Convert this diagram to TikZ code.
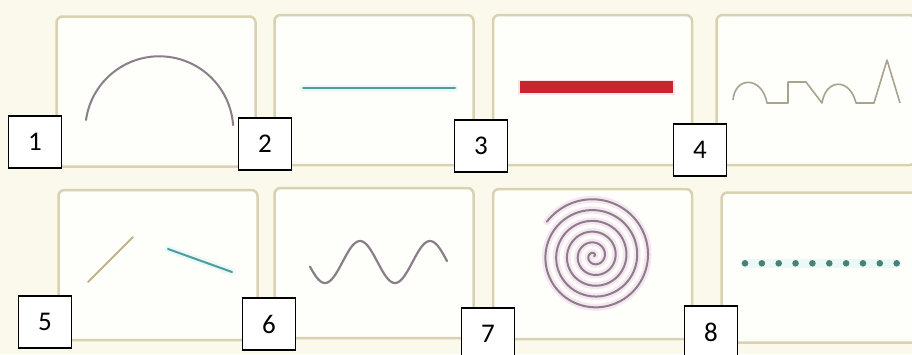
\documentclass[tikz,border=0pt]{standalone}
\usepackage{fontspec}
\setmainfont{Carlito}
\usetikzlibrary{positioning}
\definecolor{bgcream}{HTML}{FBF9EC}
\definecolor{frame}{HTML}{D8D2B0}
\definecolor{paper}{HTML}{FEFEFB}
\definecolor{mauve}{HTML}{8A7E88}
\definecolor{teal}{HTML}{4F9C9E}
\definecolor{dotteal}{HTML}{4A8078}
\definecolor{brick}{HTML}{C8262C}
\definecolor{taupe}{HTML}{A7A38E}
\definecolor{ochre}{HTML}{C4B48A}
\definecolor{blush}{HTML}{F7E6F2}
\definecolor{mint}{HTML}{EAF8F6}
\tikzset{
  panel/.style={draw=frame,line width=2.5pt,rounded corners=6pt,fill=paper,
    minimum width=199pt,minimum height=150pt,inner sep=0pt},
  numbox/.style={draw=black,line width=1.3pt,fill=white,minimum width=53pt,
    minimum height=52pt,inner sep=0pt,font=\fontsize{27}{30}\selectfont},
  stroke/.style={line width=2pt,line cap=round},
  glow/.style={line width=7pt,line cap=round}
}

\begin{document}
\begin{tikzpicture}[x=1pt,y=-1pt]
\clip (0,0) rectangle (912,354);
\fill[bgcream] (0,0) rectangle (912,354);

\node[panel] (p1) at (156,91.5) {};
\node[panel] (p2) at (374,90) {};
\node[panel] (p3) at (592.5,90) {};
\node[panel] (p4) at (816,90) {};
\node[panel] (p5) at (158,265) {};
\node[panel] (p6) at (374,263) {};
\node[panel] (p7) at (592.5,264) {};
\node[panel] (p8) at (821,267.5) {};

\draw[stroke,mauve] (86,120) arc[start angle=188,end angle=356,radius=74];

\draw[glow,mint] (303,88)--(455,88);
\draw[stroke,teal] (303,88)--(455,88);

\draw[line width=15pt,brick!12] (518,87)--(675,87);
\draw[line width=12pt,brick] (520,87)--(673,87);

\draw[taupe,line width=1.6pt,line join=round] (733,100)
  .. controls (735,76) and (762,76) .. (767,103) -- (788,103) -- (788,82)
  -- (806,82) -- (822,103) .. controls (826,78) and (850,78) .. (856,103)
  -- (874,103) -- (887,60) -- (900,103);

\draw[stroke,ochre] (88,282)--(133,237);
\draw[glow,mint] (168,249)--(232,272);
\draw[stroke,teal] (168,249)--(232,272);

\draw[stroke,mauve,line width=2.2pt] plot[domain=310:447,samples=80,smooth]
  (\x,{262+21*cos(5.142857*(\x-325))});

\draw[blush,line width=7pt,line cap=round] plot[domain=0:1944,samples=400,smooth]
  ({594+0.03*\x*cos(-\x)},{256+0.03*\x*sin(-\x)});
\draw[mauve,line width=2pt,line cap=round] plot[domain=0:1944,samples=400,smooth]
  ({594+0.03*\x*cos(-\x)},{256+0.03*\x*sin(-\x)});

\draw[line width=9pt,mint,line cap=round] (745,263.3)--(897,263.3);
\foreach \i in {0,...,9}
  \fill[dotteal] (745+16.85*\i,263.3) circle (3.3);

\node[numbox] (n1) at (35,142) {1};
\node[numbox] (n2) at (265,144) {2};
\node[numbox] (n3) at (481,146) {3};
\node[numbox] (n4) at (700,150) {4};
\node[numbox] (n5) at (45,322) {5};
\node[numbox] (n6) at (269,324) {6};
\node[numbox] (n7) at (488,334) {7};
\node[numbox] (n8) at (711,332) {8};
\end{tikzpicture}
\end{document}
